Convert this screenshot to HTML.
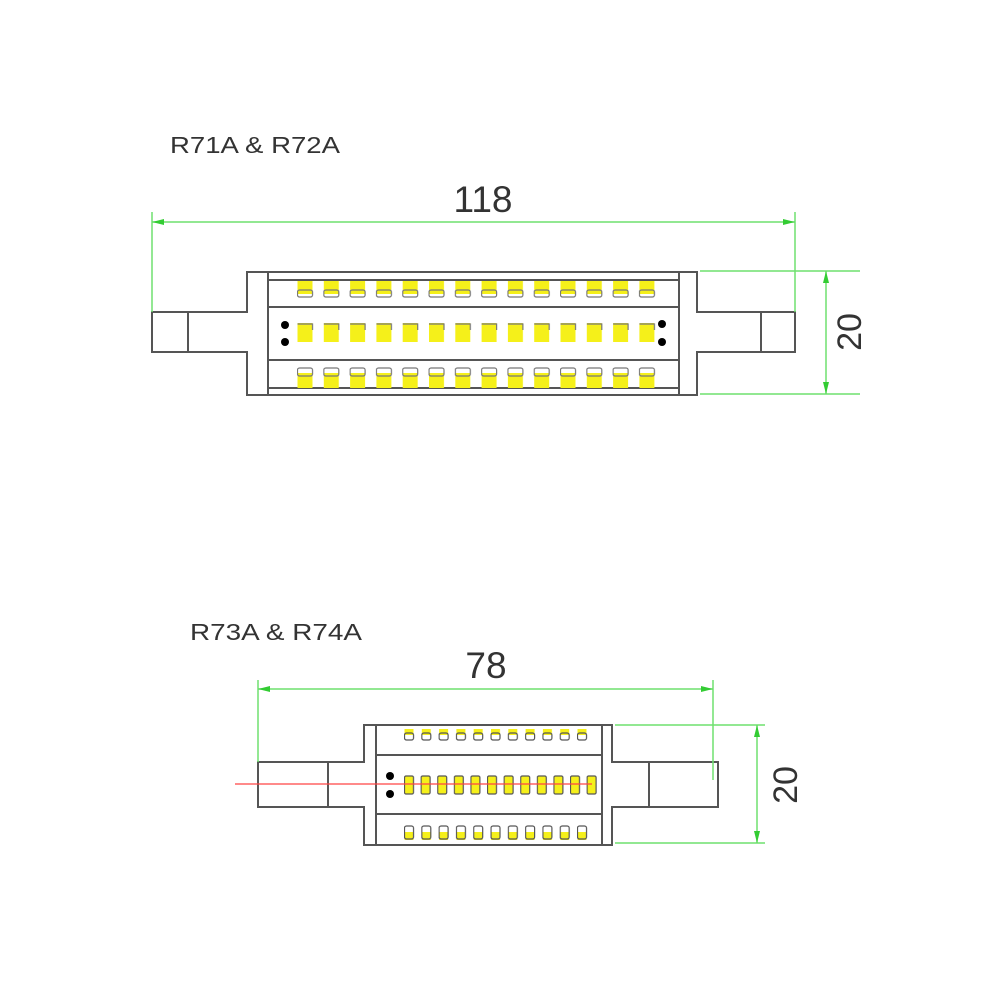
<!DOCTYPE html>
<html><head><meta charset="utf-8"><style>
html,body{margin:0;padding:0;background:#fff}
svg{display:block}
text{font-family:"Liberation Sans",sans-serif;fill:#333}
</style></head><body>
<svg width="1000" height="1000" viewBox="0 0 1000 1000" xmlns="http://www.w3.org/2000/svg">
<defs>
<pattern id="ledA" x="297" y="0" width="26.3" height="1000" patternUnits="userSpaceOnUse">
 <rect x="0.5" y="281" width="15" height="13" fill="#f5f01a"/>
 <rect x="0.5" y="290" width="15" height="7" fill="none" stroke="#777" stroke-width="1.2" rx="2"/>
</pattern>
<pattern id="ledB" x="297" y="0" width="26.3" height="1000" patternUnits="userSpaceOnUse">
 <rect x="0.5" y="323" width="15" height="19" fill="#f5f01a"/>
 <path d="M0.5 324 H15.5 V330" fill="none" stroke="#777" stroke-width="1.2"/>
</pattern>
<pattern id="ledC" x="297" y="0" width="26.3" height="1000" patternUnits="userSpaceOnUse">
 <rect x="0.5" y="373" width="15" height="15" fill="#f5f01a"/>
 <rect x="0.5" y="368" width="15" height="8" fill="none" stroke="#777" stroke-width="1.2" rx="2"/>
</pattern>
<pattern id="ledD" x="404" y="0" width="17.3" height="1000" patternUnits="userSpaceOnUse">
 <rect x="0.5" y="729" width="9" height="6" fill="#f5f01a"/>
 <rect x="0.5" y="733" width="9" height="7" fill="none" stroke="#555" stroke-width="1.2" rx="2"/>
</pattern>
<pattern id="ledE" x="404" y="0" width="16.6" height="1000" patternUnits="userSpaceOnUse">
 <rect x="0.5" y="776" width="9" height="18" fill="#f5f01a" stroke="#555" stroke-width="1.2" rx="1.5"/>
</pattern>
<pattern id="ledF" x="404" y="0" width="17.3" height="1000" patternUnits="userSpaceOnUse">
 <rect x="0.5" y="832" width="9" height="8" fill="#f5f01a"/>
 <rect x="0.5" y="826" width="9" height="13" fill="none" stroke="#555" stroke-width="1.2" rx="2"/>
</pattern>
</defs>

<text x="170" y="153" font-size="23" textLength="170" lengthAdjust="spacingAndGlyphs">R71A &amp; R72A</text>
<text x="483" y="212" font-size="37" text-anchor="middle">118</text>

<g fill="none" stroke="#555" stroke-width="2">
 <path d="M152 312 H247 V272 H697 V312 H795 V352 H697 V395 H247 V352 H152 Z" fill="#fff"/>
 <line x1="188" y1="312" x2="188" y2="352"/>
 <line x1="761" y1="312" x2="761" y2="352"/>
 <line x1="268" y1="272" x2="268" y2="395"/>
 <line x1="679" y1="272" x2="679" y2="395"/>
 <line x1="268" y1="280" x2="679" y2="280"/>
 <line x1="268" y1="307" x2="679" y2="307"/>
 <line x1="268" y1="360" x2="679" y2="360"/>
 <line x1="268" y1="388" x2="679" y2="388"/>
</g>
<rect x="297" y="280" width="368" height="20" fill="url(#ledA)"/>
<rect x="297" y="320" width="368" height="25" fill="url(#ledB)"/>
<rect x="297" y="366" width="368" height="24" fill="url(#ledC)"/>
<circle cx="285" cy="325" r="4" fill="#000"/><circle cx="285" cy="342" r="4" fill="#000"/>
<circle cx="662" cy="324" r="4" fill="#000"/><circle cx="662" cy="342" r="4" fill="#000"/>

<g stroke="#6fe06f" stroke-width="1.5" fill="none">
 <line x1="152" y1="222" x2="795" y2="222"/>
 <line x1="152" y1="212" x2="152" y2="312"/>
 <line x1="795" y1="212" x2="795" y2="312"/>
 <line x1="700" y1="271" x2="860" y2="271"/>
 <line x1="700" y1="394" x2="860" y2="394"/>
 <line x1="826" y1="271" x2="826" y2="394"/>
</g>
<g fill="#3c3">
 <path d="M152 222 l12 -3 v6z"/><path d="M795 222 l-12 -3 v6z"/>
 <path d="M826 271 l-3 12 h6z"/><path d="M826 394 l-3 -12 h6z"/>
</g>
<text transform="translate(861 332) rotate(-90)" font-size="34" text-anchor="middle">20</text>

<text x="190" y="640" font-size="23" textLength="172" lengthAdjust="spacingAndGlyphs">R73A &amp; R74A</text>
<text x="486" y="678" font-size="37" text-anchor="middle">78</text>

<g fill="none" stroke="#555" stroke-width="2">
 <path d="M258 762 H364 V725 H612 V762 H718 V807 H612 V845 H364 V807 H258 Z" fill="#fff"/>
 <line x1="328" y1="762" x2="328" y2="807"/>
 <line x1="649" y1="762" x2="649" y2="807"/>
 <line x1="376" y1="725" x2="376" y2="845"/>
 <line x1="602" y1="725" x2="602" y2="845"/>
 <line x1="376" y1="755" x2="602" y2="755"/>
 <line x1="376" y1="814" x2="602" y2="814"/>
</g>
<rect x="404" y="726" width="190" height="16" fill="url(#ledD)"/>
<rect x="404" y="774" width="196" height="22" fill="url(#ledE)"/>
<rect x="404" y="824" width="190" height="18" fill="url(#ledF)"/>
<circle cx="390" cy="776" r="4" fill="#000"/><circle cx="390" cy="794" r="4" fill="#000"/>
<line x1="235" y1="784" x2="592" y2="784" stroke="#f44" stroke-width="1.2"/>

<g stroke="#6fe06f" stroke-width="1.5" fill="none">
 <line x1="258" y1="689" x2="713" y2="689"/>
 <line x1="258" y1="680" x2="258" y2="762"/>
 <line x1="713" y1="680" x2="713" y2="780"/>
 <line x1="615" y1="725" x2="765" y2="725"/>
 <line x1="615" y1="843" x2="765" y2="843"/>
 <line x1="757" y1="725" x2="757" y2="843"/>
</g>
<g fill="#3c3">
 <path d="M258 689 l12 -3 v6z"/><path d="M713 689 l-12 -3 v6z"/>
 <path d="M757 725 l-3 12 h6z"/><path d="M757 843 l-3 -12 h6z"/>
</g>
<text transform="translate(797 785) rotate(-90)" font-size="34" text-anchor="middle">20</text>
</svg>
</body></html>
